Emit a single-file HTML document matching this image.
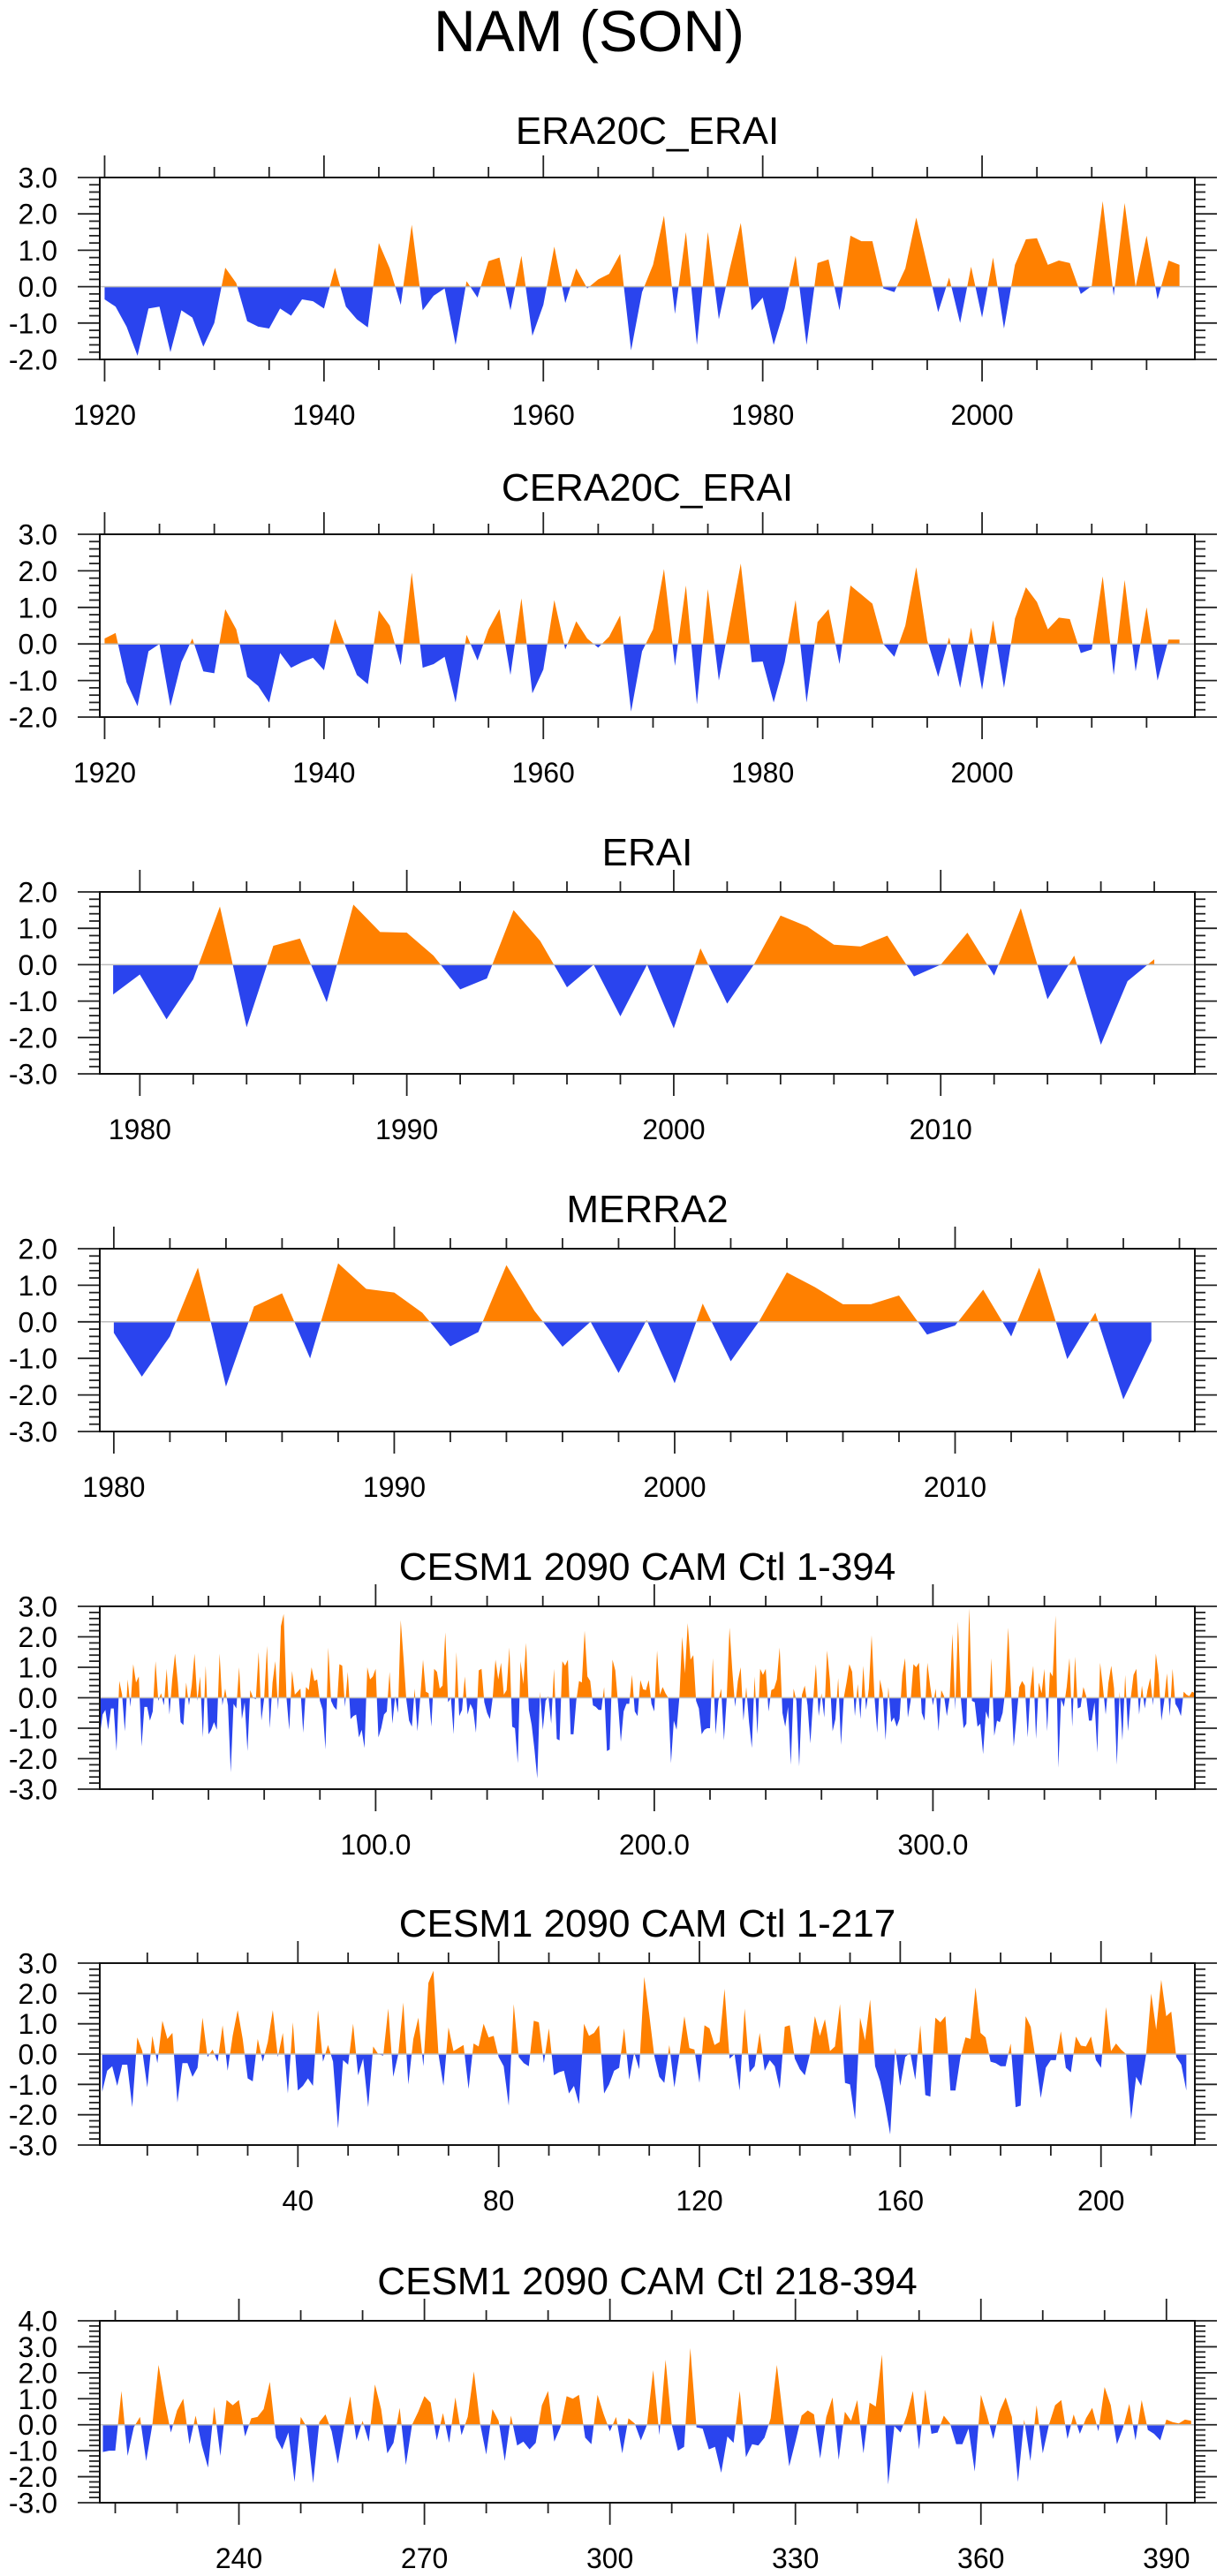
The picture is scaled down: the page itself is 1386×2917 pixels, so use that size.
<!DOCTYPE html>
<html><head><meta charset="utf-8"><title>NAM (SON)</title>
<style>
html,body{margin:0;padding:0;background:#fff;}
svg{display:block;font-family:"Liberation Sans",Arial,sans-serif;}
</style></head>
<body>
<svg id="fig" width="1386" height="2917" viewBox="0 0 1386 2917" xmlns="http://www.w3.org/2000/svg">
<rect x="0" y="0" width="1386" height="2917" fill="#fff"/>
<text x="667" y="58" font-size="66" text-anchor="middle">NAM (SON)</text>
</svg>
<script>
// ---- data ----
const era20cYears = [1920,2018];
const era20cValues = [-0.35,-0.55,-1.1,-1.9,-0.6,-0.55,-1.8,-0.65,-0.85,-1.65,
-1.0,0.52,0.1,-0.95,-1.1,-1.15,-0.6,-0.8,-0.35,-0.4,
-0.6,0.52,-0.55,-0.9,-1.12,1.2,0.5,-0.5,1.7,-0.65,
-0.25,-0.05,-1.6,0.15,-0.3,0.7,0.8,-0.65,0.85,-1.35,
-0.5,1.1,-0.45,0.5,-0.05,0.2,0.35,0.9,-1.75,-0.15,
0.6,1.95,-0.75,1.5,-1.6,1.5,-0.9,0.5,1.75,-0.65,
-0.3,-1.6,-0.6,0.85,-1.6,0.65,0.75,-0.65,1.4,1.25,
1.25,-0.05,-0.15,0.5,1.9,0.6,-0.7,0.25,-1.0,0.55,
-0.85,0.8,-1.15,0.6,1.3,1.33,0.6,0.72,0.65,-0.2,
0.02,2.35,-0.25,2.3,0.0,1.4,-0.35,0.72,0.6];
const cera20cValues = [0.15,0.3,-1.05,-1.7,-0.2,0.0,-1.7,-0.5,0.15,-0.75,
-0.8,0.95,0.4,-0.9,-1.15,-1.6,-0.25,-0.65,-0.5,-0.38,
-0.72,0.68,-0.1,-0.85,-1.1,0.92,0.5,-0.58,1.95,-0.65,
-0.55,-0.35,-1.6,0.25,-0.45,0.4,0.95,-0.85,1.25,-1.35,
-0.7,1.2,-0.15,0.62,0.15,-0.1,0.2,0.78,-1.85,-0.2,
0.4,2.05,-0.6,1.6,-1.65,1.5,-1.0,0.6,2.2,-0.5,
-0.48,-1.6,-0.5,1.2,-1.6,0.6,0.95,-0.55,1.6,1.35,
1.1,0.0,-0.35,0.5,2.1,0.1,-0.9,0.18,-1.2,0.45,
-1.25,0.65,-1.2,0.7,1.55,1.15,0.4,0.72,0.68,-0.25,
-0.15,1.85,-0.85,1.75,-0.75,1.0,-1.0,0.12,0.12];
const eraiStartYear = 1979;
const eraiValues = [-0.82,-0.27,-1.5,-0.4,1.6,-1.72,0.52,0.72,-1.03,1.65,
0.9,0.88,0.25,-0.68,-0.38,1.5,0.65,-0.62,0.0,-1.42,
0.0,-1.75,0.45,-1.07,0.0,1.35,1.05,0.55,0.5,0.8,
-0.32,0.0,0.88,-0.3,1.55,-0.95,0.25,-2.2,-0.45,0.15];
const merra2StartYear = 1980;
const merra2Values = [-0.3,-1.5,-0.4,1.48,-1.77,0.42,0.78,-1.0,1.6,0.9,
0.8,0.25,-0.67,-0.28,1.55,0.3,-0.68,0.0,-1.4,0.05,
-1.68,0.5,-1.08,0.0,1.35,0.95,0.48,0.48,0.72,-0.35,
-0.1,0.88,-0.4,1.48,-1.02,0.25,-2.12,-0.52];
const cesmValues = [-1.25,-0.55,-0.4,-1.05,-0.35,-0.35,-1.75,0.55,0.1,-1.1,
0.6,-0.3,1.1,0.5,0.7,-1.6,-0.3,-0.3,-0.75,-0.45,
1.2,-0.1,0.15,-0.25,0.95,-0.55,0.6,1.45,0.5,-0.8,
-0.9,0.5,-0.25,0.4,1.45,-0.1,0.7,-1.3,1.05,-1.2,
-1.05,-0.8,-1.05,1.45,-0.25,0.3,-0.25,-2.45,-0.2,-0.35,
1.0,-0.7,-0.15,-1.75,0.25,0.0,-0.05,1.5,-0.75,0.0,
1.7,-1.0,0.5,1.2,-0.4,2.35,2.75,0.0,-1.05,0.88,
0.1,0.2,0.3,-1.15,0.35,0.25,1.0,0.55,0.6,-0.1,
-0.4,-1.7,1.65,-0.1,-0.3,-0.4,1.1,1.05,-0.3,0.85,
-0.7,-0.6,-0.55,-1.3,-1.05,-1.65,1.0,0.6,0.7,0.95,
-1.3,-1.0,-0.55,-0.45,0.85,-0.85,0.05,-0.5,2.55,1.3,
-0.05,-0.75,-0.95,0.3,-1.1,0.0,1.25,0.2,0.15,-0.95,
0.95,0.85,0.3,0.4,2.15,-0.15,0.0,-1.2,1.5,-0.6,
-0.4,0.7,-0.55,-0.2,-0.4,-1.15,0.9,0.95,-0.15,-0.5,
-0.7,0.0,1.25,0.6,1.15,0.1,0.25,1.65,-0.95,-1.0,
-2.15,1.2,0.45,1.8,-0.4,-0.9,-1.7,-2.65,0.2,-1.05,
-0.1,0.05,-0.85,0.95,-1.35,-1.4,1.2,1.05,1.25,-1.2,
-1.2,-0.1,0.55,0.5,2.2,0.7,0.55,-0.25,-0.3,-0.4,
-0.4,0.35,-1.75,-1.7,1.25,0.9,-0.2,-1.45,-0.45,-0.2,
-0.2,0.75,-0.45,-0.6,0.58,0.28,0.25,0.58,-0.2,-0.45,
1.55,0.1,0.35,0.15,0.0,-2.15,-0.75,-1.05,0.0,2.0,
0.8,2.45,1.25,1.4,-0.1,-0.35,-1.2,
-1.05,-1.0,-1.0,1.3,-1.2,-0.1,0.3,-1.4,0.0,2.3,
0.9,-0.3,0.55,1.0,-0.75,0.35,-0.8,-1.65,0.7,-1.2,
0.95,0.75,0.95,-0.45,0.25,0.3,0.6,1.65,-0.5,-0.95,
-0.3,-2.2,0.3,-0.1,-2.25,0.1,0.4,-0.25,-1.5,-0.1,
1.1,-0.6,0.15,-0.65,1.55,0.6,-1.1,-0.7,0.65,-1.55,
0.0,0.5,1.1,0.85,-0.6,0.45,-0.7,1.05,-0.4,0.3,
2.05,0.05,-1.15,0.6,0.15,-1.4,0.35,-0.8,-0.65,-0.95,
-0.7,0.75,1.3,-0.65,-0.1,1.1,1.0,1.15,-0.5,-0.75,
1.15,0.4,-0.25,0.3,-1.1,0.25,0.05,-0.6,0.0,2.1,
-0.4,2.5,0.0,-1.0,-0.85,2.95,-0.1,-0.15,-0.95,-0.85,
-1.85,-0.45,-0.7,1.3,-1.25,-0.75,-0.8,-0.5,0.25,2.3,
0.3,-1.6,-0.65,0.35,0.55,0.4,-1.3,0.3,1.05,-1.35,
0.5,0.15,0.95,-1.1,0.85,0.7,2.7,-2.3,-0.05,-0.3,
0.35,1.3,-0.95,1.35,-0.35,-0.3,0.35,0.05,-0.75,-0.75,
-0.15,-1.8,1.15,0.35,-0.55,0.5,1.05,0.3,-2.2,0.2,
-1.4,0.75,-1.1,0.0,0.75,0.95,-0.55,0.4,-0.35,0.25,
0.65,-0.25,1.45,0.75,-0.75,-0.1,0.8,-0.6,0.95,-0.2,
-0.35,-0.6,0.2,0.1,0.05,0.2,0.15];
const yearTicks20 = [1920,1940,1960,1980,2000];
const yearTicks10 = [1980,1990,2000,2010];
const idxTicks100 = [100,200,300];
const idxTicks100Labels = ["100.0","200.0","300.0"];
const idxTicks40 = [40,80,120,160,200];
const idxTicks30 = [240,270,300,330,360,390];

// ---- drawing ----
const NS = "http://www.w3.org/2000/svg";
const svg = document.getElementById('fig');
const L = 113, R = 1353;
const ORANGE = "#ff8000", BLUE = "#2a44ee";
let clipId = 0;
function mk(tag, attrs, parent){ const e = document.createElementNS(NS, tag); for (const k in attrs) e.setAttribute(k, attrs[k]); (parent||svg).appendChild(e); return e; }

function panel(cfg){
  const g = mk('g', {});
  
  
  const T = cfg.top, B = cfg.bot;
  const sx = v => L + (v - cfg.xmin) / (cfg.xmax - cfg.xmin) * (R - L);
  const sy = v => B - (v - cfg.ymin) / (cfg.ymax - cfg.ymin) * (B - T);
  // title
  const t = mk('text', {x: 733, y: T - cfg.titleGap, 'font-size': 44, 'text-anchor': 'middle'}, g);
  t.textContent = cfg.title;
  
  
  // area fill
  const y0 = sy(0);
  let d = 'M' + sx(cfg.xs[0]).toFixed(2) + ',' + y0.toFixed(2);
  for (let i = 0; i < cfg.ys.length; i++) d += 'L' + sx(cfg.xs[i]).toFixed(2) + ',' + sy(cfg.ys[i]).toFixed(2);
  d += 'L' + sx(cfg.xs[cfg.xs.length-1]).toFixed(2) + ',' + y0.toFixed(2) + 'Z';
  const idA = 'ca' + (clipId), idB = 'cb' + (clipId++);
  const defs = mk('defs', {}, g);
  const cA = mk('clipPath', {id: idA}, defs); mk('rect', {x: L, y: T, width: R-L, height: y0 - T}, cA);
  const cB = mk('clipPath', {id: idB}, defs); mk('rect', {x: L, y: y0, width: R-L, height: B - y0}, cB);
  const pos = mk('path', {d: d, fill: ORANGE, 'clip-path': 'url(#' + idA + ')'}, g);
  
  
  const neg = mk('path', {d: d, fill: BLUE, 'clip-path': 'url(#' + idB + ')'}, g);
  
  
  const zl = mk('line', {x1: L, x2: R, y1: y0, y2: y0, stroke: '#bdbdbd', 'stroke-width': 1.5}, g);
  
  
  // y ticks
  const tk = mk('g', {stroke: '#222', 'stroke-width': 1.8}, g);
  
  
  const nMin = Math.round((cfg.ymax - cfg.ymin) / 0.2);
  for (let k = 0; k <= nMin; k++){
    const v = cfg.ymin + k * 0.2; const y = sy(v);
    const major = Math.abs(v - Math.round(v)) < 1e-6;
    const len = major ? 25 : 12;
    mk('line', {x1: L - len, x2: L, y1: y, y2: y}, tk);
    mk('line', {x1: R, x2: R + len, y1: y, y2: y}, tk);
    if (major){
      const lab = mk('text', {x: 65, y: y + 11.5, 'font-size': 32, 'text-anchor': 'end'}, g);
      lab.textContent = Math.round(v).toFixed(1);
      
      
    }
  }
  // x ticks
  const start = Math.ceil(cfg.xmin / cfg.minor) * cfg.minor;
  for (let v = start; v <= cfg.xmax + 1e-9; v += cfg.minor){
    const x = sx(v);
    const major = cfg.majors.indexOf(v) >= 0 || (v % cfg.majorStep === 0);
    const len = major ? 25 : 12;
    mk('line', {x1: x, x2: x, y1: T - len, y2: T}, tk);
    mk('line', {x1: x, x2: x, y1: B, y2: B + len}, tk);
  }
  cfg.majors.forEach((v, i) => {
    const lab = mk('text', {x: sx(v), y: B + 74, 'font-size': 32, 'text-anchor': 'middle'}, g);
    lab.textContent = cfg.labels ? cfg.labels[i] : String(v);
    
    
  });
  // frame
  const fr = mk('rect', {x: L, y: T, width: R-L, height: B-T, fill: 'none', stroke: '#111', 'stroke-width': 2}, g);
  
  
}
const rangeFrom = (s, n) => Array.from({length: n}, (_, i) => s + i);

panel({name:'era20c-erai-panel', title:'ERA20C_ERAI', top:201, bot:407, titleGap:38, ymin:-2, ymax:3,
  xmin:1919.56, xmax:2019.4, xs: rangeFrom(era20cYears[0], era20cValues.length), ys: era20cValues,
  majors: yearTicks20, majorStep:20, minor:5});
panel({name:'cera20c-erai-panel', title:'CERA20C_ERAI', top:605, bot:812, titleGap:38, ymin:-2, ymax:3,
  xmin:1919.56, xmax:2019.4, xs: rangeFrom(era20cYears[0], cera20cValues.length), ys: cera20cValues,
  majors: yearTicks20, majorStep:20, minor:5});
panel({name:'erai-panel', title:'ERAI', top:1010, bot:1216, titleGap:30, ymin:-3, ymax:2,
  xmin:1978.5, xmax:2019.52, xs: rangeFrom(eraiStartYear, eraiValues.length), ys: eraiValues,
  majors: yearTicks10, majorStep:10, minor:2});
panel({name:'merra2-panel', title:'MERRA2', top:1414, bot:1621, titleGap:30, ymin:-3, ymax:2,
  xmin:1979.5, xmax:2018.55, xs: rangeFrom(merra2StartYear, merra2Values.length), ys: merra2Values,
  majors: yearTicks10, majorStep:10, minor:2});
panel({name:'cesm-1-394-panel', title:'CESM1 2090 CAM Ctl 1-394', top:1819, bot:2026, titleGap:30, ymin:-3, ymax:3,
  xmin:1, xmax:394, xs: rangeFrom(1, cesmValues.length), ys: cesmValues,
  majors: idxTicks100, labels: idxTicks100Labels, majorStep:100, minor:20});
panel({name:'cesm-1-217-panel', title:'CESM1 2090 CAM Ctl 1-217', top:2223, bot:2429, titleGap:30, ymin:-3, ymax:3,
  xmin:0.53, xmax:218.7, xs: rangeFrom(1, 217), ys: cesmValues.slice(0, 217),
  majors: idxTicks40, majorStep:40, minor:10});
panel({name:'cesm-218-394-panel', title:'CESM1 2090 CAM Ctl 218-394', top:2628, bot:2834, titleGap:30, ymin:-3, ymax:4,
  xmin:217.5, xmax:394.6, xs: rangeFrom(218, 177), ys: cesmValues.slice(217, 394),
  majors: idxTicks30, majorStep:30, minor:10});
</script>
</body></html>
